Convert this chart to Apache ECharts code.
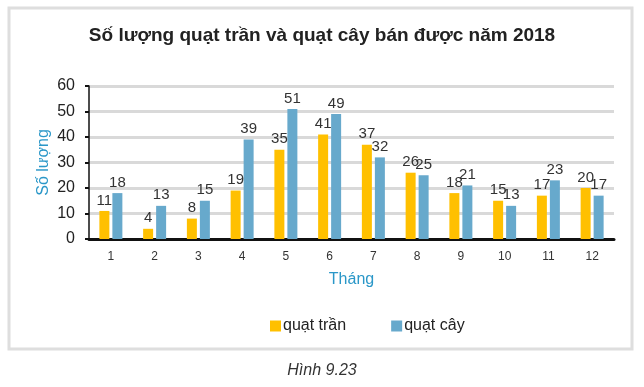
<!DOCTYPE html>
<html><head><meta charset="utf-8">
<script src="https://cdn.jsdelivr.net/npm/echarts@6/dist/echarts.min.js"></script>
<style>html,body{margin:0;padding:0;background:#fff}#c{width:644px;height:387px}</style>
</head><body><div id="c"></div>
<script>
const months = ['1','2','3','4','5','6','7','8','9','10','11','12'];
const quatTran = [11,4,8,19,35,41,37,26,18,15,17,20];
const quatCay = [18,13,15,39,51,49,32,25,21,13,23,17];
const yTicks = [0,10,20,30,40,50,60];

const chart = echarts.init(document.getElementById('c'), null, {renderer:'canvas'});
const font = 'Liberation Sans, Arial, sans-serif';
chart.setOption({
  animation:false,
  textStyle:{fontFamily:font},
  title:{text:'Số lượng quạt trần và quạt cây bán được năm 2018',left:'center',top:21,
    textStyle:{fontSize:19,fontWeight:'bold',color:'#222',fontFamily:font}},
  graphic:[
    {type:'rect',shape:{x:9,y:8,width:623,height:341},style:{fill:'none',stroke:'#dedede',lineWidth:3},z:-10},
    {type:'text',left:'center',top:363,style:{text:'Hình 9.23',font:'italic 16px '+font,fill:'#333'}}
  ],
  legend:{top:313,left:265,itemWidth:11,itemHeight:11,itemGap:45,icon:'rect',
    textStyle:{fontSize:16,color:'#222',fontFamily:font,padding:[0,0,0,-3]},
    data:['quạt trần','quạt cây']},
  grid:{left:89,right:30,top:86,bottom:148},
  xAxis:{type:'category',data:months,name:'Tháng',nameLocation:'middle',nameGap:33,
    nameMoveOverlap:false,
    nameTextStyle:{color:'#2a97c8',fontSize:16,fontFamily:font},
    axisLine:{lineStyle:{color:'#111',width:3}},axisTick:{show:false},
    axisLabel:{color:'#333',fontSize:12,margin:12}},
  yAxis:{type:'value',min:0,max:60,interval:10,name:'Số lượng',nameLocation:'middle',nameGap:37,
    nameMoveOverlap:false,
    nameTextStyle:{color:'#2a97c8',fontSize:16,fontFamily:font},
    axisLine:{show:true,lineStyle:{color:'#111',width:1.5}},
    axisTick:{show:true,length:4,lineStyle:{color:'#111',width:2}},
    axisLabel:{color:'#222',fontSize:16,margin:14,formatter:v=>yTicks.includes(v)?String(v):''},
    splitLine:{lineStyle:{color:'#d9d9d9',width:3}}},
  series:[
    {name:'quạt trần',type:'bar',data:quatTran,barWidth:10,barGap:'30%',
      itemStyle:{color:'#FFC000'},
      label:{show:true,position:'top',color:'#333',fontSize:15,distance:3}},
    {name:'quạt cây',type:'bar',data:quatCay,barWidth:10,
      itemStyle:{color:'#67A9CC'},
      label:{show:true,position:'top',color:'#333',fontSize:15,distance:3}}
  ]
});
</script></body></html>
